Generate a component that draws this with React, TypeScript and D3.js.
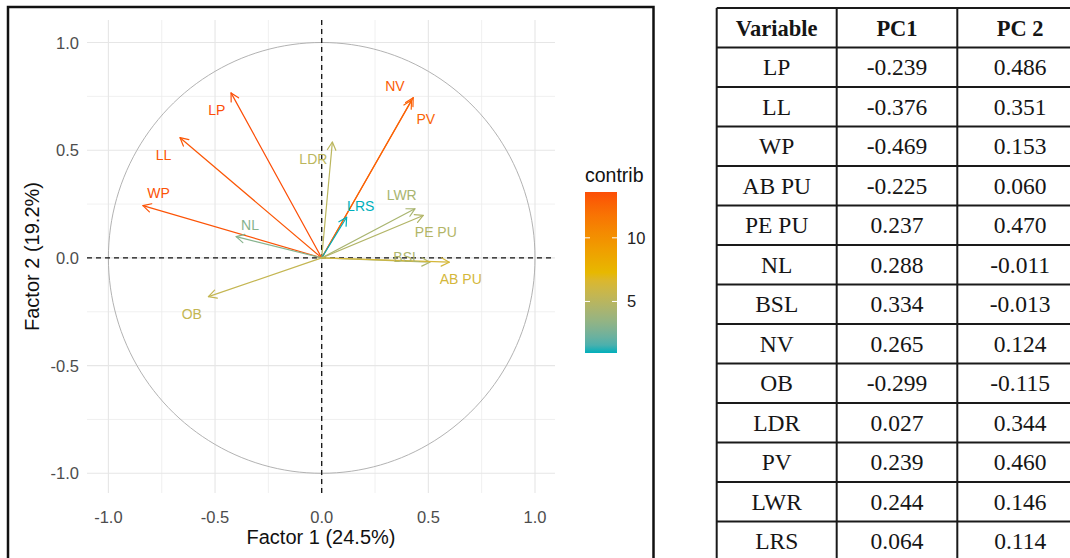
import React from "react";
import * as d3 from "d3";

// ---- Plot data ----
const variables = ["LP", "LL", "WP", "NL", "LDR", "NV", "PV", "LRS", "LWR", "PE PU", "BSL", "AB PU", "OB"];
const factor1 = [-0.425, -0.664, -0.838, -0.401, 0.05, 0.429, 0.421, 0.117, 0.437, 0.476, 0.507, 0.598, -0.531];
const factor2 = [0.766, 0.558, 0.243, 0.099, 0.538, 0.744, 0.732, 0.189, 0.228, 0.197, -0.02, -0.02, -0.18];
const contrib = [13.6, 13.2, 13.4, 3.0, 5.1, 13.0, 12.6, 0.95, 4.3, 4.7, 4.5, 6.3, 5.5];
const labelX = [-0.492, -0.742, -0.765, -0.336, -0.039, 0.343, 0.488, 0.183, 0.375, 0.535, 0.398, 0.652, -0.609];
const labelY = [0.685, 0.476, 0.3, 0.155, 0.46, 0.797, 0.647, 0.243, 0.29, 0.119, 0.003, -0.096, -0.26];

const majorTicks = [-1, -0.5, 0, 0.5, 1];
const minorTicks = [-0.75, -0.25, 0.25, 0.75];
const legendTicks = [5, 10];
const gradientColors = ["#00AFBB", "#E7B800", "#FC4E07"];

// ---- Table data ----
const tableHeader = ["Variable", "PC1", "PC 2"];
const tableVars = ["LP", "LL", "WP", "AB PU", "PE PU", "NL", "BSL", "NV", "OB", "LDR", "PV", "LWR", "LRS"];
const tablePC1 = ["-0.239", "-0.376", "-0.469", "-0.225", "0.237", "0.288", "0.334", "0.265", "-0.299", "0.027", "0.239", "0.244", "0.064"];
const tablePC2 = ["0.486", "0.351", "0.153", "0.060", "0.470", "-0.011", "-0.013", "0.124", "-0.115", "0.344", "0.460", "0.146", "0.114"];

const SANS = "'Liberation Sans', Arial, sans-serif";
const SERIF = "'Liberation Serif', 'Times New Roman', serif";

const fmt = (t: number) => d3.format(".1f")(t).replace("\u2212", "-");

export default function App() {
  const x = d3.scaleLinear().domain([-1, 1]).range([108.4, 535]);
  const y = d3.scaleLinear().domain([-1, 1]).range([473.3, 42.5]);
  const panel = { x0: 87, x1: 555, y0: 20, y1: 493 };

  const cMin = d3.min(contrib) as number;
  const cMax = d3.max(contrib) as number;
  const color = d3
    .scaleLinear<string>()
    .domain([cMin, (cMin + cMax) / 2, cMax])
    .range(gradientColors)
    .interpolate(d3.interpolateLab);

  // unit circle
  const circlePts = d3.range(0, 361, 2).map((a) => {
    const r = (a * Math.PI) / 180;
    return [x(Math.cos(r)), y(Math.sin(r))] as [number, number];
  });
  const circlePath = d3.line()(circlePts) as string;

  // legend
  const leg = { x: 585, w: 32, y0: 192, y1: 353 };
  const ly = d3.scaleLinear().domain([cMin, cMax]).range([leg.y1, leg.y0]);
  const stops = d3.range(0, 1.0001, 0.05).map((t) => ({ t, c: color(cMin + t * (cMax - cMin)) }));

  // table
  const tb = { top: 8, rowH: 39.5, cols: [716.7, 836.7, 957.3, 1083] };
  const nRows = tableVars.length + 1;

  const headLen = 9;
  const headAng = (28 * Math.PI) / 180;

  return (
    <svg width={1070} height={558} style={{ position: "absolute", left: 0, top: 0, background: "#fff" }}>
      <defs>
        <linearGradient id="contribGrad" x1="0" y1="1" x2="0" y2="0">
          {stops.map((s, i) => (
            <stop key={i} offset={s.t} stopColor={s.c} />
          ))}
        </linearGradient>
      </defs>
      <rect x={0} y={0} width={1070} height={558} fill="#fff" />

      {/* grid */}
      {minorTicks.map((t) => (
        <g key={"mn" + t}>
          <line x1={x(t)} x2={x(t)} y1={panel.y0} y2={panel.y1} stroke="#ececec" strokeWidth={0.8} />
          <line x1={panel.x0} x2={panel.x1} y1={y(t)} y2={y(t)} stroke="#ececec" strokeWidth={0.8} />
        </g>
      ))}
      {majorTicks.map((t) => (
        <g key={"mj" + t}>
          <line x1={x(t)} x2={x(t)} y1={panel.y0} y2={panel.y1} stroke="#e6e6e6" strokeWidth={1.1} />
          <line x1={panel.x0} x2={panel.x1} y1={y(t)} y2={y(t)} stroke="#e6e6e6" strokeWidth={1.1} />
        </g>
      ))}

      {/* circle */}
      <path d={circlePath} fill="none" stroke="#a9a9a9" strokeWidth={0.9} />

      {/* dashed zero lines */}
      <line x1={x(0)} x2={x(0)} y1={panel.y0} y2={panel.y1} stroke="#111" strokeWidth={1.3} strokeDasharray="5,4" />
      <line x1={panel.x0} x2={panel.x1} y1={y(0)} y2={y(0)} stroke="#111" strokeWidth={1.3} strokeDasharray="5,4" />

      {/* arrows */}
      {variables.map((v, i) => {
        const x0 = x(0), y0 = y(0);
        const x1 = x(factor1[i]), y1 = y(factor2[i]);
        const ang = Math.atan2(y1 - y0, x1 - x0);
        const h1 = [x1 - headLen * Math.cos(ang - headAng), y1 - headLen * Math.sin(ang - headAng)];
        const h2 = [x1 - headLen * Math.cos(ang + headAng), y1 - headLen * Math.sin(ang + headAng)];
        const c = color(contrib[i]);
        return (
          <g key={v} stroke={c} strokeWidth={1.2} fill="none" strokeLinecap="round" strokeLinejoin="round">
            <line x1={x0} y1={y0} x2={x1} y2={y1} />
            <path d={`M${h1[0]},${h1[1]}L${x1},${y1}L${h2[0]},${h2[1]}`} />
          </g>
        );
      })}

      {/* arrow labels */}
      {variables.map((v, i) => (
        <text
          key={"l" + v}
          x={x(labelX[i])}
          y={y(labelY[i])}
          textAnchor="middle"
          dominantBaseline="central"
          fontFamily={SANS}
          fontSize={14}
          fill={color(contrib[i])}
        >
          {v}
        </text>
      ))}

      {/* axis tick labels */}
      {majorTicks.map((t) => (
        <text key={"yt" + t} x={79} y={y(t)} textAnchor="end" dominantBaseline="central" fontFamily={SANS} fontSize={16.5} fill="#4d4d4d">
          {fmt(t)}
        </text>
      ))}
      {majorTicks.map((t) => (
        <text key={"xt" + t} x={x(t)} y={517} textAnchor="middle" dominantBaseline="central" fontFamily={SANS} fontSize={16.5} fill="#4d4d4d">
          {fmt(t)}
        </text>
      ))}

      {/* axis titles */}
      <text x={(panel.x0 + panel.x1) / 2} y={537} textAnchor="middle" dominantBaseline="central" fontFamily={SANS} fontSize={20} fill="#111">
        Factor 1 (24.5%)
      </text>
      <text
        transform={`translate(32,${(panel.y0 + panel.y1) / 2}) rotate(-90)`}
        textAnchor="middle"
        dominantBaseline="central"
        fontFamily={SANS}
        fontSize={20}
        fill="#111"
      >
        Factor 2 (19.2%)
      </text>

      {/* legend */}
      <text x={leg.x} y={175} dominantBaseline="central" fontFamily={SANS} fontSize={19.5} fill="#111">
        contrib
      </text>
      <rect x={leg.x} y={leg.y0} width={leg.w} height={leg.y1 - leg.y0} fill="url(#contribGrad)" />
      {legendTicks.map((t) => (
        <g key={"lt" + t}>
          <line x1={leg.x} x2={leg.x + 5} y1={ly(t)} y2={ly(t)} stroke="#fff" strokeWidth={1} />
          <line x1={leg.x + leg.w - 5} x2={leg.x + leg.w} y1={ly(t)} y2={ly(t)} stroke="#fff" strokeWidth={1} />
          <text x={leg.x + leg.w + 10} y={ly(t)} dominantBaseline="central" fontFamily={SANS} fontSize={16.5} fill="#222">
            {t}
          </text>
        </g>
      ))}

      {/* left panel frame */}
      <rect x={8} y={7} width={645.5} height={570} fill="none" stroke="#111" strokeWidth={2.5} />

      {/* table */}
      <g>
        {d3.range(nRows).map((r) => {
          const cy = tb.top + tb.rowH * (r + 0.5);
          const cells = r === 0 ? tableHeader : [tableVars[r - 1], tablePC1[r - 1], tablePC2[r - 1]];
          return (
            <g key={"row" + r}>
              {cells.map((c, ci) => (
                <text
                  key={ci}
                  x={(tb.cols[ci] + tb.cols[ci + 1]) / 2}
                  y={cy + 8}
                  textAnchor="middle"
                  fontFamily={SERIF}
                  fontSize={r === 0 ? 22.5 : 23.5}
                  fontWeight={r === 0 ? "bold" : "normal"}
                  fill="#151515"
                >
                  {c}
                </text>
              ))}
            </g>
          );
        })}
        {d3.range(nRows + 1).map((r) => (
          <line key={"hl" + r} x1={tb.cols[0]} x2={tb.cols[3]} y1={tb.top + tb.rowH * r} y2={tb.top + tb.rowH * r} stroke="#1a1a1a" strokeWidth={2} />
        ))}
        {tb.cols.map((cx, i) => (
          <line key={"vl" + i} x1={cx} x2={cx} y1={tb.top} y2={tb.top + tb.rowH * nRows} stroke="#1a1a1a" strokeWidth={2} />
        ))}
      </g>
    </svg>
  );
}
